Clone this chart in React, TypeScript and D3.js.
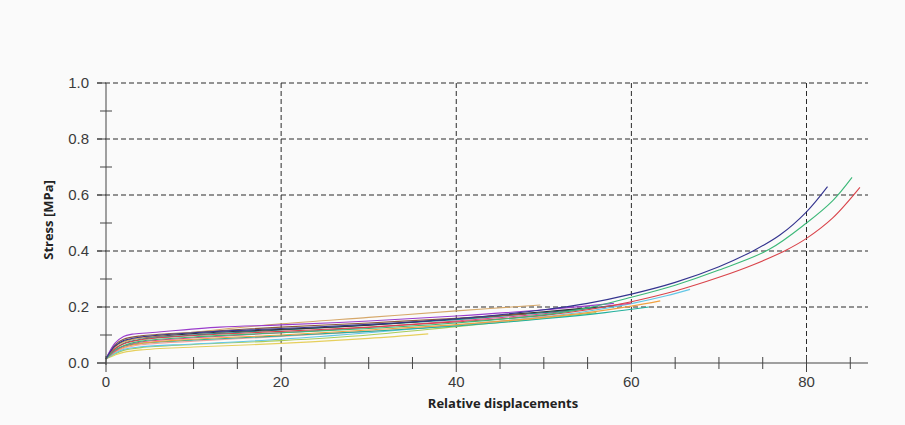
import React from "react";
import * as d3 from "d3";

// stress–displacement curves, one [x, y] list per specimen
const navyCurve = [[0, 0.015], [1, 0.06], [2, 0.08], [4, 0.093], [10, 0.108], [20, 0.123], [30, 0.138], [40, 0.158], [50, 0.19], [55, 0.213], [60, 0.246], [65, 0.288], [70, 0.344], [74, 0.402], [77, 0.458], [80, 0.54], [82.4, 0.63]];
const greenCurve = [[0, 0.015], [1, 0.045], [2, 0.062], [4, 0.078], [10, 0.093], [20, 0.108], [30, 0.123], [40, 0.143], [50, 0.172], [55, 0.197], [60, 0.235], [65, 0.278], [70, 0.332], [75.7, 0.405], [80, 0.5], [83, 0.58], [85.2, 0.663]];
const redCurve = [[0, 0.015], [1, 0.05], [2, 0.068], [4, 0.083], [10, 0.098], [20, 0.113], [30, 0.128], [40, 0.147], [50, 0.17], [55, 0.19], [60, 0.219], [65, 0.257], [70, 0.306], [74, 0.352], [77.6, 0.402], [80, 0.445], [83, 0.518], [86.1, 0.627]];
const orangeCurve = [[0, 0.015], [1, 0.04], [2, 0.055], [4, 0.07], [10, 0.085], [20, 0.1], [30, 0.118], [40, 0.137], [50, 0.163], [55, 0.18], [60, 0.203], [63.3, 0.222]];
const skyCurve = [[0, 0.015], [1, 0.035], [2, 0.048], [4, 0.058], [10, 0.068], [20, 0.085], [30, 0.108], [40, 0.135], [50, 0.165], [55, 0.185], [60, 0.212], [64, 0.24], [66.7, 0.263]];
const tanCurve = [[0, 0.015], [1, 0.055], [2, 0.075], [4, 0.09], [10, 0.11], [20, 0.14], [30, 0.163], [40, 0.186], [49.6, 0.207]];
const yellowCurve = [[0, 0.015], [1, 0.028], [2, 0.038], [4, 0.047], [10, 0.057], [20, 0.07], [30, 0.088], [36.8, 0.104]];
const purpleCurve = [[0, 0.015], [1, 0.07], [2, 0.095], [3, 0.103], [5, 0.108], [13, 0.128], [20, 0.136], [30, 0.15], [40, 0.168], [50, 0.19], [58, 0.213]];
const tealCurve = [[0, 0.015], [1, 0.05], [2, 0.07], [4, 0.085], [10, 0.1], [20, 0.118], [30, 0.135], [40, 0.155], [50, 0.18], [58, 0.205]];
const magentaCurve = [[0, 0.015], [1, 0.042], [2, 0.06], [4, 0.075], [10, 0.09], [20, 0.108], [30, 0.127], [40, 0.15], [50, 0.176], [60, 0.214]];
const blackCurve = [[0, 0.015], [1, 0.058], [2, 0.077], [4, 0.09], [10, 0.105], [20, 0.12], [30, 0.135], [40, 0.158], [50, 0.183], [56, 0.2]];
const brownCurve = [[0, 0.015], [1, 0.065], [2, 0.085], [4, 0.097], [10, 0.11], [20, 0.128], [30, 0.143], [40, 0.16], [48, 0.175]];
const salmonCurve = [[0, 0.015], [1, 0.038], [2, 0.052], [4, 0.065], [10, 0.078], [20, 0.095], [30, 0.113], [40, 0.135], [52, 0.17]];
const limeCurve = [[0, 0.015], [1, 0.032], [2, 0.045], [4, 0.055], [10, 0.066], [20, 0.08], [30, 0.1], [40, 0.13], [50, 0.16], [56, 0.18]];
const seaCurve = [[0, 0.015], [1, 0.045], [2, 0.06], [4, 0.07], [10, 0.082], [20, 0.097], [30, 0.113], [40, 0.132], [50, 0.158], [57, 0.18], [62, 0.2]];

const curves = [yellowCurve, limeCurve, salmonCurve, skyCurve, seaCurve, orangeCurve, magentaCurve, tealCurve, blackCurve, brownCurve, tanCurve, purpleCurve, redCurve, greenCurve, navyCurve];
const curveColors = ["#e6cf5c", "#a8cc5a", "#f2a3a0", "#62c6e6", "#23b09c", "#f0a040", "#e0488a", "#1f8a8a", "#333333", "#8a5a3a", "#d6a86a", "#9a3ccc", "#d9434a", "#3cb878", "#34348f"];

const xMajor = [0, 20, 40, 60, 80];
const xMinor = [5, 10, 15, 25, 30, 35, 45, 50, 55, 65, 70, 75, 85];
const yMajor = [0, 0.2, 0.4, 0.6, 0.8, 1.0];
const yMinor = [0.1, 0.3, 0.5, 0.7, 0.9];

const W = 905;
const H = 425;

export default function App() {
  const x = d3.scaleLinear().domain([0, 87]).range([106, 867.8]);
  const y = d3.scaleLinear().domain([0, 1]).range([363, 83]);

  const line = d3
    .line<number[]>()
    .x((d) => x(d[0]))
    .y((d) => y(d[1]))
    .curve(d3.curveCatmullRom.alpha(0.5));

  const axisCol = "#444";
  const gridCol = "#2a2a2a";
  const font = "'Liberation Sans', Arial, sans-serif";

  return (
    <svg
      width={W}
      height={H}
      style={{ position: "fixed", left: 0, top: 0, background: "#fafafa" }}
    >
      {/* horizontal grid */}
      {yMajor.slice(1).map((v) => (
        <line key={"gy" + v} x1={97} x2={868} y1={y(v)} y2={y(v)} stroke={gridCol} strokeDasharray="5,3" strokeWidth={1} />
      ))}
      {/* vertical grid */}
      {xMajor.slice(1).map((v) => (
        <line key={"gx" + v} x1={x(v)} x2={x(v)} y1={y(1)} y2={y(0)} stroke={gridCol} strokeDasharray="5,3" strokeWidth={1} />
      ))}

      {/* curves */}
      {curves.map((c, i) => (
        <path key={"c" + i} d={line(c) || ""} fill="none" stroke={curveColors[i]} strokeWidth={1.1} />
      ))}

      {/* y axis */}
      <line x1={x(0)} x2={x(0)} y1={y(1)} y2={y(0) + 2} stroke={axisCol} />
      {yMajor.map((v) => (
        <line key={"yt" + v} x1={97} x2={x(0)} y1={y(v)} y2={y(v)} stroke={axisCol} />
      ))}
      {yMinor.map((v) => (
        <line key={"ym" + v} x1={100} x2={112} y1={y(v)} y2={y(v)} stroke={axisCol} />
      ))}
      {yMajor.map((v) => (
        <text key={"yl" + v} x={89} y={y(v) + 5} textAnchor="end" fontFamily={font} fontSize={15} fill="#3a3a3a">
          {v.toFixed(1)}
        </text>
      ))}

      {/* x axis */}
      <line x1={97} x2={868} y1={y(0)} y2={y(0)} stroke={axisCol} />
      {xMajor.map((v) => (
        <line key={"xt" + v} x1={x(v)} x2={x(v)} y1={y(0) - 7} y2={y(0) + 9} stroke={axisCol} />
      ))}
      {xMinor.map((v) => (
        <line key={"xm" + v} x1={x(v)} x2={x(v)} y1={y(0) - 6} y2={y(0) + 6} stroke={axisCol} />
      ))}
      {xMajor.map((v) => (
        <text key={"xl" + v} x={x(v)} y={387} textAnchor="middle" fontFamily={font} fontSize={15} fill="#3a3a3a">
          {v}
        </text>
      ))}

      {/* titles */}
      <text x={503} y={408} textAnchor="middle" fontFamily="'Open Sans', sans-serif" fontWeight="bold" fontSize={13} fill="#222">
        Relative displacements
      </text>
      <text
        transform={`translate(53, 220) rotate(-90)`}
        textAnchor="middle"
        fontFamily="'Open Sans', sans-serif"
        fontWeight="bold"
        fontSize={13}
        fill="#222"
      >
        Stress [MPa]
      </text>
    </svg>
  );
}
